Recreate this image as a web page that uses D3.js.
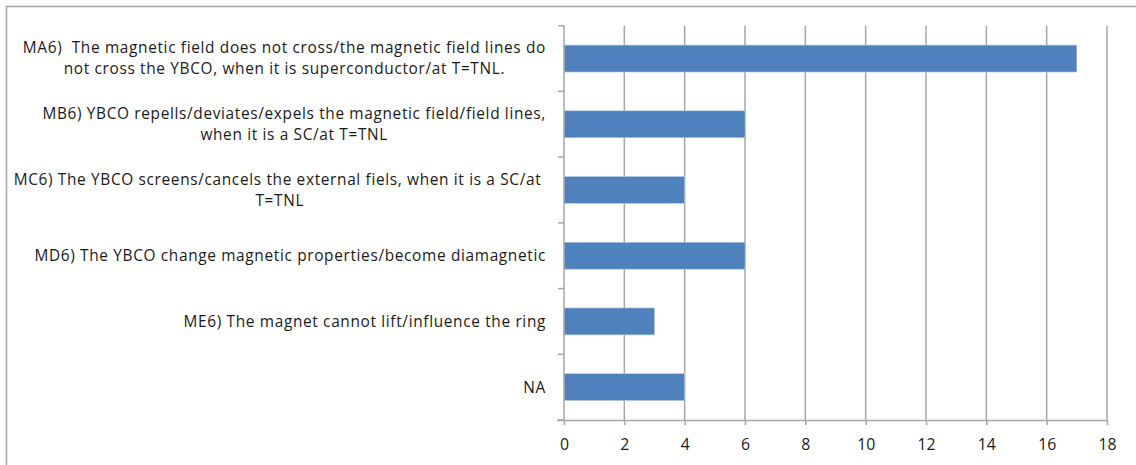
<!DOCTYPE html>
<html>
<head>
<meta charset="utf-8">
<script src="https://cdn.jsdelivr.net/npm/d3@7"></script>
<style>
    body { margin: 0; background: #ffffff; }
    text { font-family: "Open Sans", sans-serif; fill: #1a1a1a; white-space: pre; }
</style>
</head>
<body>
<div id="chart"></div>
<script>
const categories = ["MA6", "MB6", "MC6", "MD6", "ME6", "NA"];
const labelLines = [
    ["MA6)  The magnetic field does not cross/the magnetic field lines do", "not cross the YBCO, when it is superconductor/at T=TNL."],
    ["MB6) YBCO repells/deviates/expels the magnetic field/field lines,", "when it is a SC/at T=TNL"],
    ["MC6) The YBCO screens/cancels the external fiels, when it is a SC/at ", "T=TNL"],
    ["MD6) The YBCO change magnetic properties/become diamagnetic"],
    ["ME6) The magnet cannot lift/influence the ring"],
    ["NA"]
];
const counts = [17, 6, 4, 6, 3, 4];
const xTicks = [0, 2, 4, 6, 8, 10, 12, 14, 16, 18];

const width = 1136;
const height = 465;
const plot = { left: 564, right: 1107, top: 25.7, bottom: 420 };
const gridColor = "#a6a6a6";
const barColor = "#4f81bd";
const fontSize = 15.4;
const lineGap = 21;

const svg = d3.select("#chart").append("svg")
    .attr("width", width)
    .attr("height", height);

// outer chart border (right and bottom run off the page)
svg.append("rect")
    .attr("x", 6.5)
    .attr("y", 6.5)
    .attr("width", width + 20)
    .attr("height", height + 20)
    .attr("fill", "none")
    .attr("stroke", gridColor)
    .attr("stroke-width", 1.5);

const x = d3.scaleLinear().domain([0, 18]).range([plot.left, plot.right]);
const y = d3.scaleBand().domain(categories)
    .range([plot.top, plot.bottom])
    .paddingInner(0.59)
    .paddingOuter(0.295);

// vertical gridlines
svg.append("g").selectAll("line")
    .data(xTicks.slice(1))
    .join("line")
    .attr("x1", d => x(d))
    .attr("x2", d => x(d))
    .attr("y1", plot.top)
    .attr("y2", plot.bottom)
    .attr("stroke", gridColor)
    .attr("stroke-width", 1.5);

// bars
svg.append("g").selectAll("rect")
    .data(categories)
    .join("rect")
    .attr("x", x(0))
    .attr("y", d => y(d))
    .attr("width", (d, i) => x(counts[i]) - x(0))
    .attr("height", y.bandwidth())
    .attr("fill", barColor)
    .attr("stroke", "#b9cde5")
    .attr("stroke-width", 0.6);

// x axis
const xAxis = svg.append("g")
    .attr("transform", `translate(0,${plot.bottom})`)
    .call(d3.axisBottom(x).tickValues(xTicks).tickSize(5).tickSizeOuter(0).tickPadding(14));
xAxis.select(".domain").attr("stroke", gridColor).attr("stroke-width", 1.5)
    .attr("d", `M${plot.left - 7},0.5H${plot.right}`);
xAxis.selectAll(".tick line").attr("stroke", gridColor).attr("stroke-width", 1.5);
xAxis.selectAll(".tick text")
    .style("font-family", "'Open Sans', sans-serif")
    .style("font-size", "15.8px")
    .attr("fill", "#1a1a1a");

// y axis line with ticks on band boundaries
const yAxis = svg.append("g");
yAxis.append("line")
    .attr("x1", plot.left).attr("x2", plot.left)
    .attr("y1", plot.top).attr("y2", plot.bottom)
    .attr("stroke", gridColor).attr("stroke-width", 1.5);
const bounds = categories.map(c => y(c) - y.step() * y.paddingInner() / 2).concat([plot.bottom]);
yAxis.selectAll("line.tick")
    .data(bounds)
    .join("line")
    .attr("class", "tick")
    .attr("x1", plot.left - 6).attr("x2", plot.left)
    .attr("y1", d => d).attr("y2", d => d)
    .attr("stroke", gridColor).attr("stroke-width", 1.5);

// category labels: block right aligned, lines centred within block
const labelRight = 546;
categories.forEach((c, i) => {
    const lines = labelLines[i];
    const cy = y(c) + y.bandwidth() / 2;
    const g = svg.append("g");
    const texts = g.selectAll("text")
        .data(lines)
        .join("text")
        .attr("y", (d, j) => cy + (j - (lines.length - 1) / 2) * lineGap)
        .attr("dy", "0.35em")
        .attr("text-anchor", "middle")
        .style("font-size", fontSize + "px")
        .style("letter-spacing", "0.66px")
        .text(d => d);
    const maxW = d3.max(texts.nodes(), n => n.getComputedTextLength());
    texts.attr("x", labelRight - maxW / 2);
});
</script>
</body>
</html>
